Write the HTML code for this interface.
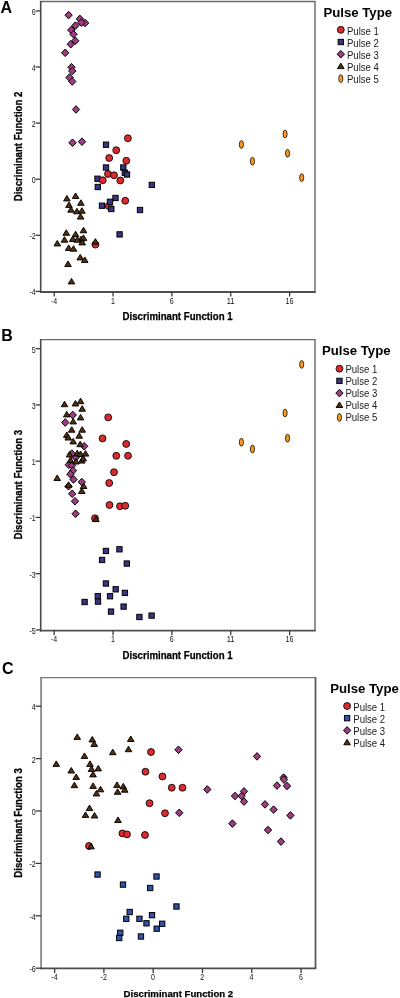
<!DOCTYPE html>
<html><head><meta charset="utf-8"><title>Discriminant analysis scatter plots</title>
<style>
html,body{margin:0;padding:0;background:#fff;}
body{width:400px;height:998px;overflow:hidden;}
svg{display:block;font-family:"Liberation Sans", sans-serif;filter:blur(0.3px);}
</style></head><body>
<svg width="400" height="998" viewBox="0 0 400 998" font-family='"Liberation Sans", sans-serif'>
<rect width="400" height="998" fill="#fff"/>
<text x="0.45" y="12.8" font-size="16" font-weight="bold" text-anchor="start" fill="#000">A</text>
<path d="M40.1 1.5H315.8" stroke="#6a6a6a" stroke-width="1.4"/>
<path d="M315.0 1.5V292.0" stroke="#888" stroke-width="1.8"/>
<path d="M40.7 0.9V292.8" stroke="#4a4a4a" stroke-width="1.6"/>
<path d="M39.900000000000006 292.0H315.8" stroke="#505050" stroke-width="1.9"/>
<path d="M35.6 10.90H40.7" stroke="#333" stroke-width="1.25"/>
<text x="35.7" y="14.90" font-size="8.2" text-anchor="end" fill="#111" textLength="3.92" lengthAdjust="spacingAndGlyphs">6</text>
<path d="M35.6 67.00H40.7" stroke="#333" stroke-width="1.25"/>
<text x="35.7" y="71.00" font-size="8.2" text-anchor="end" fill="#111" textLength="3.92" lengthAdjust="spacingAndGlyphs">4</text>
<path d="M35.6 123.10H40.7" stroke="#333" stroke-width="1.25"/>
<text x="35.7" y="127.10" font-size="8.2" text-anchor="end" fill="#111" textLength="3.92" lengthAdjust="spacingAndGlyphs">2</text>
<path d="M35.6 179.20H40.7" stroke="#333" stroke-width="1.25"/>
<text x="35.7" y="183.20" font-size="8.2" text-anchor="end" fill="#111" textLength="3.92" lengthAdjust="spacingAndGlyphs">0</text>
<path d="M35.6 235.30H40.7" stroke="#333" stroke-width="1.25"/>
<text x="35.7" y="239.30" font-size="8.2" text-anchor="end" fill="#111" textLength="6.27" lengthAdjust="spacingAndGlyphs">-2</text>
<path d="M35.6 291.40H40.7" stroke="#333" stroke-width="1.25"/>
<text x="35.7" y="295.40" font-size="8.2" text-anchor="end" fill="#111" textLength="6.27" lengthAdjust="spacingAndGlyphs">-4</text>
<path d="M54.20 292.0V296.6" stroke="#333" stroke-width="1.25"/>
<text x="54.00" y="303.8" font-size="8.2" text-anchor="middle" fill="#111" textLength="6.27" lengthAdjust="spacingAndGlyphs">-4</text>
<path d="M113.05 292.0V296.6" stroke="#333" stroke-width="1.25"/>
<text x="112.85" y="303.8" font-size="8.2" text-anchor="middle" fill="#111" textLength="3.92" lengthAdjust="spacingAndGlyphs">1</text>
<path d="M171.90 292.0V296.6" stroke="#333" stroke-width="1.25"/>
<text x="171.70" y="303.8" font-size="8.2" text-anchor="middle" fill="#111" textLength="3.92" lengthAdjust="spacingAndGlyphs">6</text>
<path d="M230.75 292.0V296.6" stroke="#333" stroke-width="1.25"/>
<text x="230.55" y="303.8" font-size="8.2" text-anchor="middle" fill="#111" textLength="7.84" lengthAdjust="spacingAndGlyphs">11</text>
<path d="M289.60 292.0V296.6" stroke="#333" stroke-width="1.25"/>
<text x="289.40" y="303.8" font-size="8.2" text-anchor="middle" fill="#111" textLength="7.84" lengthAdjust="spacingAndGlyphs">16</text>
<text x="122.6" y="320.0" font-size="10.2" font-weight="bold" text-anchor="start" fill="#000" stroke="#000" stroke-width="0.25" textLength="110.0" lengthAdjust="spacingAndGlyphs">Discriminant Function 1</text>
<text x="0" y="0" font-size="10.6" font-weight="bold" text-anchor="middle" stroke="#000" stroke-width="0.3" textLength="109.6" lengthAdjust="spacingAndGlyphs" transform="translate(21.7,146.45) rotate(-90)">Discriminant Function 2</text>
<circle cx="127.90" cy="138.25" r="3.45" fill="#dc2a2e" stroke="#000" stroke-width="0.85"/>
<circle cx="116.25" cy="150.25" r="3.45" fill="#dc2a2e" stroke="#000" stroke-width="0.85"/>
<circle cx="109.20" cy="158.00" r="3.45" fill="#dc2a2e" stroke="#000" stroke-width="0.85"/>
<circle cx="126.30" cy="160.75" r="3.45" fill="#dc2a2e" stroke="#000" stroke-width="0.85"/>
<circle cx="108.00" cy="174.00" r="3.45" fill="#dc2a2e" stroke="#000" stroke-width="0.85"/>
<circle cx="114.00" cy="175.30" r="3.45" fill="#dc2a2e" stroke="#000" stroke-width="0.85"/>
<circle cx="120.30" cy="180.50" r="3.45" fill="#dc2a2e" stroke="#000" stroke-width="0.85"/>
<circle cx="108.75" cy="206.00" r="3.45" fill="#dc2a2e" stroke="#000" stroke-width="0.85"/>
<circle cx="125.25" cy="200.75" r="3.45" fill="#dc2a2e" stroke="#000" stroke-width="0.85"/>
<circle cx="95.40" cy="244.60" r="3.45" fill="#dc2a2e" stroke="#000" stroke-width="0.85"/>
<rect x="103.35" y="142.05" width="5.3" height="5.3" fill="#3a3582" stroke="#000" stroke-width="1.0"/>
<rect x="103.35" y="164.85" width="5.3" height="5.3" fill="#3a3582" stroke="#000" stroke-width="1.0"/>
<rect x="120.65" y="164.85" width="5.3" height="5.3" fill="#3a3582" stroke="#000" stroke-width="1.0"/>
<rect x="122.15" y="170.10" width="5.3" height="5.3" fill="#3a3582" stroke="#000" stroke-width="1.0"/>
<rect x="124.35" y="171.85" width="5.3" height="5.3" fill="#3a3582" stroke="#000" stroke-width="1.0"/>
<rect x="94.85" y="176.10" width="5.3" height="5.3" fill="#3a3582" stroke="#000" stroke-width="1.0"/>
<rect x="95.15" y="184.35" width="5.3" height="5.3" fill="#3a3582" stroke="#000" stroke-width="1.0"/>
<rect x="149.15" y="182.25" width="5.3" height="5.3" fill="#3a3582" stroke="#000" stroke-width="1.0"/>
<rect x="112.85" y="195.35" width="5.3" height="5.3" fill="#3a3582" stroke="#000" stroke-width="1.0"/>
<rect x="107.35" y="199.15" width="5.3" height="5.3" fill="#3a3582" stroke="#000" stroke-width="1.0"/>
<rect x="99.35" y="203.05" width="5.3" height="5.3" fill="#3a3582" stroke="#000" stroke-width="1.0"/>
<rect x="108.65" y="206.35" width="5.3" height="5.3" fill="#3a3582" stroke="#000" stroke-width="1.0"/>
<rect x="137.35" y="207.35" width="5.3" height="5.3" fill="#3a3582" stroke="#000" stroke-width="1.0"/>
<rect x="116.95" y="231.75" width="5.3" height="5.3" fill="#3a3582" stroke="#000" stroke-width="1.0"/>
<path d="M68.60 11.30L72.25 15.10L68.60 18.90L64.95 15.10Z" fill="#a03c82" stroke="#000" stroke-width="1.0"/>
<path d="M79.90 15.10L83.55 18.90L79.90 22.70L76.25 18.90Z" fill="#a03c82" stroke="#000" stroke-width="1.0"/>
<path d="M85.10 19.20L88.75 23.00L85.10 26.80L81.45 23.00Z" fill="#a03c82" stroke="#000" stroke-width="1.0"/>
<path d="M81.40 18.80L85.05 22.60L81.40 26.40L77.75 22.60Z" fill="#a03c82" stroke="#000" stroke-width="1.0"/>
<path d="M75.40 21.80L79.05 25.60L75.40 29.40L71.75 25.60Z" fill="#a03c82" stroke="#000" stroke-width="1.0"/>
<path d="M71.25 26.30L74.90 30.10L71.25 33.90L67.60 30.10Z" fill="#a03c82" stroke="#000" stroke-width="1.0"/>
<path d="M73.50 30.45L77.15 34.25L73.50 38.05L69.85 34.25Z" fill="#a03c82" stroke="#000" stroke-width="1.0"/>
<path d="M75.25 37.00L78.90 40.80L75.25 44.60L71.60 40.80Z" fill="#a03c82" stroke="#000" stroke-width="1.0"/>
<path d="M70.75 40.45L74.40 44.25L70.75 48.05L67.10 44.25Z" fill="#a03c82" stroke="#000" stroke-width="1.0"/>
<path d="M65.20 49.00L68.85 52.80L65.20 56.60L61.55 52.80Z" fill="#a03c82" stroke="#000" stroke-width="1.0"/>
<path d="M71.50 63.45L75.15 67.25L71.50 71.05L67.85 67.25Z" fill="#a03c82" stroke="#000" stroke-width="1.0"/>
<path d="M72.25 67.20L75.90 71.00L72.25 74.80L68.60 71.00Z" fill="#a03c82" stroke="#000" stroke-width="1.0"/>
<path d="M69.50 73.70L73.15 77.50L69.50 81.30L65.85 77.50Z" fill="#a03c82" stroke="#000" stroke-width="1.0"/>
<path d="M72.25 77.70L75.90 81.50L72.25 85.30L68.60 81.50Z" fill="#a03c82" stroke="#000" stroke-width="1.0"/>
<path d="M76.00 105.70L79.65 109.50L76.00 113.30L72.35 109.50Z" fill="#a03c82" stroke="#000" stroke-width="1.0"/>
<path d="M72.50 138.95L76.15 142.75L72.50 146.55L68.85 142.75Z" fill="#a03c82" stroke="#000" stroke-width="1.0"/>
<path d="M82.00 137.90L85.65 141.70L82.00 145.50L78.35 141.70Z" fill="#a03c82" stroke="#000" stroke-width="1.0"/>
<path d="M75.60 192.95L78.90 198.45L72.30 198.45Z" fill="#55300f" stroke="#000" stroke-width="0.95" stroke-linejoin="round"/>
<path d="M66.90 195.45L70.20 200.95L63.60 200.95Z" fill="#55300f" stroke="#000" stroke-width="0.95" stroke-linejoin="round"/>
<path d="M80.90 199.80L84.20 205.30L77.60 205.30Z" fill="#55300f" stroke="#000" stroke-width="0.95" stroke-linejoin="round"/>
<path d="M69.00 201.95L72.30 207.45L65.70 207.45Z" fill="#55300f" stroke="#000" stroke-width="0.95" stroke-linejoin="round"/>
<path d="M71.00 206.70L74.30 212.20L67.70 212.20Z" fill="#55300f" stroke="#000" stroke-width="0.95" stroke-linejoin="round"/>
<path d="M76.90 208.30L80.20 213.80L73.60 213.80Z" fill="#55300f" stroke="#000" stroke-width="0.95" stroke-linejoin="round"/>
<path d="M81.90 207.70L85.20 213.20L78.60 213.20Z" fill="#55300f" stroke="#000" stroke-width="0.95" stroke-linejoin="round"/>
<path d="M80.60 213.60L83.90 219.10L77.30 219.10Z" fill="#55300f" stroke="#000" stroke-width="0.95" stroke-linejoin="round"/>
<path d="M83.50 227.30L86.80 232.80L80.20 232.80Z" fill="#55300f" stroke="#000" stroke-width="0.95" stroke-linejoin="round"/>
<path d="M66.25 229.80L69.55 235.30L62.95 235.30Z" fill="#55300f" stroke="#000" stroke-width="0.95" stroke-linejoin="round"/>
<path d="M75.60 231.20L78.90 236.70L72.30 236.70Z" fill="#55300f" stroke="#000" stroke-width="0.95" stroke-linejoin="round"/>
<path d="M64.50 236.70L67.80 242.20L61.20 242.20Z" fill="#55300f" stroke="#000" stroke-width="0.95" stroke-linejoin="round"/>
<path d="M72.75 235.95L76.05 241.45L69.45 241.45Z" fill="#55300f" stroke="#000" stroke-width="0.95" stroke-linejoin="round"/>
<path d="M81.00 236.20L84.30 241.70L77.70 241.70Z" fill="#55300f" stroke="#000" stroke-width="0.95" stroke-linejoin="round"/>
<path d="M83.50 234.90L86.80 240.40L80.20 240.40Z" fill="#55300f" stroke="#000" stroke-width="0.95" stroke-linejoin="round"/>
<path d="M82.20 239.40L85.50 244.90L78.90 244.90Z" fill="#55300f" stroke="#000" stroke-width="0.95" stroke-linejoin="round"/>
<path d="M77.25 236.70L80.55 242.20L73.95 242.20Z" fill="#55300f" stroke="#000" stroke-width="0.95" stroke-linejoin="round"/>
<path d="M57.30 240.45L60.60 245.95L54.00 245.95Z" fill="#55300f" stroke="#000" stroke-width="0.95" stroke-linejoin="round"/>
<path d="M95.40 238.65L98.70 244.15L92.10 244.15Z" fill="#55300f" stroke="#000" stroke-width="0.95" stroke-linejoin="round"/>
<path d="M68.70 244.95L72.00 250.45L65.40 250.45Z" fill="#55300f" stroke="#000" stroke-width="0.95" stroke-linejoin="round"/>
<path d="M73.50 245.70L76.80 251.20L70.20 251.20Z" fill="#55300f" stroke="#000" stroke-width="0.95" stroke-linejoin="round"/>
<path d="M80.25 254.40L83.55 259.90L76.95 259.90Z" fill="#55300f" stroke="#000" stroke-width="0.95" stroke-linejoin="round"/>
<path d="M84.75 256.95L88.05 262.45L81.45 262.45Z" fill="#55300f" stroke="#000" stroke-width="0.95" stroke-linejoin="round"/>
<path d="M68.00 261.00L71.30 266.50L64.70 266.50Z" fill="#55300f" stroke="#000" stroke-width="0.95" stroke-linejoin="round"/>
<path d="M71.50 278.40L74.80 283.90L68.20 283.90Z" fill="#55300f" stroke="#000" stroke-width="0.95" stroke-linejoin="round"/>
<ellipse cx="241.40" cy="144.50" rx="2.05" ry="3.9" fill="#fb9a1f" stroke="#000" stroke-width="0.75"/>
<ellipse cx="252.45" cy="161.20" rx="2.05" ry="3.9" fill="#fb9a1f" stroke="#000" stroke-width="0.75"/>
<ellipse cx="285.10" cy="134.00" rx="2.05" ry="3.9" fill="#fb9a1f" stroke="#000" stroke-width="0.75"/>
<ellipse cx="287.55" cy="153.30" rx="2.05" ry="3.9" fill="#fb9a1f" stroke="#000" stroke-width="0.75"/>
<ellipse cx="301.70" cy="177.60" rx="2.05" ry="3.9" fill="#fb9a1f" stroke="#000" stroke-width="0.75"/>
<circle cx="102.75" cy="180.25" r="3.45" fill="#dc2a2e" stroke="#000" stroke-width="0.85"/>
<text x="323.4" y="16.6" font-size="13.2" font-weight="bold" text-anchor="start" fill="#000">Pulse Type</text>
<circle cx="340.80" cy="29.80" r="3.45" fill="#dc2a2e" stroke="#000" stroke-width="0.85"/>
<text x="346.95" y="34.80" font-size="10.8" text-anchor="start" fill="#1a1a1a" textLength="31.9" lengthAdjust="spacingAndGlyphs">Pulse 1</text>
<rect x="338.15" y="39.35" width="5.3" height="5.3" fill="#3a3582" stroke="#000" stroke-width="1.0"/>
<text x="346.95" y="46.89" font-size="10.8" text-anchor="start" fill="#1a1a1a" textLength="31.9" lengthAdjust="spacingAndGlyphs">Pulse 2</text>
<path d="M340.80 50.40L344.45 54.20L340.80 58.00L337.15 54.20Z" fill="#a03c82" stroke="#000" stroke-width="1.0"/>
<text x="346.95" y="58.98" font-size="10.8" text-anchor="start" fill="#1a1a1a" textLength="31.9" lengthAdjust="spacingAndGlyphs">Pulse 3</text>
<path d="M340.80 63.10L344.10 68.60L337.50 68.60Z" fill="#55300f" stroke="#000" stroke-width="0.95" stroke-linejoin="round"/>
<text x="346.95" y="71.07" font-size="10.8" text-anchor="start" fill="#1a1a1a" textLength="31.9" lengthAdjust="spacingAndGlyphs">Pulse 4</text>
<ellipse cx="340.80" cy="78.60" rx="2.05" ry="3.9" fill="#fb9a1f" stroke="#000" stroke-width="0.75"/>
<text x="346.95" y="83.16" font-size="10.8" text-anchor="start" fill="#1a1a1a" textLength="31.9" lengthAdjust="spacingAndGlyphs">Pulse 5</text>
<text x="1.2" y="340.8" font-size="16" font-weight="bold" text-anchor="start" fill="#000">B</text>
<path d="M40.1 339.6H315.8" stroke="#6a6a6a" stroke-width="1.4"/>
<path d="M315.0 339.6V630.6" stroke="#888" stroke-width="1.8"/>
<path d="M40.7 339.0V631.4" stroke="#4a4a4a" stroke-width="1.6"/>
<path d="M39.900000000000006 630.6H315.8" stroke="#505050" stroke-width="1.9"/>
<path d="M35.6 348.70H40.7" stroke="#333" stroke-width="1.25"/>
<text x="35.7" y="352.70" font-size="8.2" text-anchor="end" fill="#111" textLength="3.92" lengthAdjust="spacingAndGlyphs">5</text>
<path d="M35.6 404.94H40.7" stroke="#333" stroke-width="1.25"/>
<text x="35.7" y="408.94" font-size="8.2" text-anchor="end" fill="#111" textLength="3.92" lengthAdjust="spacingAndGlyphs">3</text>
<path d="M35.6 461.18H40.7" stroke="#333" stroke-width="1.25"/>
<text x="35.7" y="465.18" font-size="8.2" text-anchor="end" fill="#111" textLength="3.92" lengthAdjust="spacingAndGlyphs">1</text>
<path d="M35.6 517.42H40.7" stroke="#333" stroke-width="1.25"/>
<text x="35.7" y="521.42" font-size="8.2" text-anchor="end" fill="#111" textLength="6.27" lengthAdjust="spacingAndGlyphs">-1</text>
<path d="M35.6 573.66H40.7" stroke="#333" stroke-width="1.25"/>
<text x="35.7" y="577.66" font-size="8.2" text-anchor="end" fill="#111" textLength="6.27" lengthAdjust="spacingAndGlyphs">-3</text>
<path d="M35.6 629.90H40.7" stroke="#333" stroke-width="1.25"/>
<text x="35.7" y="633.90" font-size="8.2" text-anchor="end" fill="#111" textLength="6.27" lengthAdjust="spacingAndGlyphs">-5</text>
<path d="M54.20 630.6V635.2" stroke="#333" stroke-width="1.25"/>
<text x="54.00" y="642.1" font-size="8.2" text-anchor="middle" fill="#111" textLength="6.27" lengthAdjust="spacingAndGlyphs">-4</text>
<path d="M113.05 630.6V635.2" stroke="#333" stroke-width="1.25"/>
<text x="112.85" y="642.1" font-size="8.2" text-anchor="middle" fill="#111" textLength="3.92" lengthAdjust="spacingAndGlyphs">1</text>
<path d="M171.90 630.6V635.2" stroke="#333" stroke-width="1.25"/>
<text x="171.70" y="642.1" font-size="8.2" text-anchor="middle" fill="#111" textLength="3.92" lengthAdjust="spacingAndGlyphs">6</text>
<path d="M230.75 630.6V635.2" stroke="#333" stroke-width="1.25"/>
<text x="230.55" y="642.1" font-size="8.2" text-anchor="middle" fill="#111" textLength="7.84" lengthAdjust="spacingAndGlyphs">11</text>
<path d="M289.60 630.6V635.2" stroke="#333" stroke-width="1.25"/>
<text x="289.40" y="642.1" font-size="8.2" text-anchor="middle" fill="#111" textLength="7.84" lengthAdjust="spacingAndGlyphs">16</text>
<text x="122.6" y="658.5" font-size="10.2" font-weight="bold" text-anchor="start" fill="#000" stroke="#000" stroke-width="0.25" textLength="110.0" lengthAdjust="spacingAndGlyphs">Discriminant Function 1</text>
<text x="0" y="0" font-size="10.6" font-weight="bold" text-anchor="middle" stroke="#000" stroke-width="0.3" textLength="109.6" lengthAdjust="spacingAndGlyphs" transform="translate(21.7,484.75) rotate(-90)">Discriminant Function 3</text>
<circle cx="108.20" cy="417.40" r="3.45" fill="#dc2a2e" stroke="#000" stroke-width="0.85"/>
<circle cx="102.50" cy="438.40" r="3.45" fill="#dc2a2e" stroke="#000" stroke-width="0.85"/>
<circle cx="126.20" cy="443.95" r="3.45" fill="#dc2a2e" stroke="#000" stroke-width="0.85"/>
<circle cx="116.30" cy="455.80" r="3.45" fill="#dc2a2e" stroke="#000" stroke-width="0.85"/>
<circle cx="128.00" cy="455.80" r="3.45" fill="#dc2a2e" stroke="#000" stroke-width="0.85"/>
<circle cx="114.00" cy="472.20" r="3.45" fill="#dc2a2e" stroke="#000" stroke-width="0.85"/>
<circle cx="109.20" cy="483.00" r="3.45" fill="#dc2a2e" stroke="#000" stroke-width="0.85"/>
<circle cx="109.50" cy="505.00" r="3.45" fill="#dc2a2e" stroke="#000" stroke-width="0.85"/>
<circle cx="120.00" cy="506.25" r="3.45" fill="#dc2a2e" stroke="#000" stroke-width="0.85"/>
<circle cx="125.25" cy="505.80" r="3.45" fill="#dc2a2e" stroke="#000" stroke-width="0.85"/>
<circle cx="95.00" cy="518.30" r="3.45" fill="#dc2a2e" stroke="#000" stroke-width="0.85"/>
<rect x="103.30" y="548.30" width="5.3" height="5.3" fill="#3a3582" stroke="#000" stroke-width="1.0"/>
<rect x="116.80" y="546.65" width="5.3" height="5.3" fill="#3a3582" stroke="#000" stroke-width="1.0"/>
<rect x="99.40" y="557.30" width="5.3" height="5.3" fill="#3a3582" stroke="#000" stroke-width="1.0"/>
<rect x="124.15" y="560.90" width="5.3" height="5.3" fill="#3a3582" stroke="#000" stroke-width="1.0"/>
<rect x="103.30" y="580.85" width="5.3" height="5.3" fill="#3a3582" stroke="#000" stroke-width="1.0"/>
<rect x="113.05" y="586.65" width="5.3" height="5.3" fill="#3a3582" stroke="#000" stroke-width="1.0"/>
<rect x="122.25" y="590.25" width="5.3" height="5.3" fill="#3a3582" stroke="#000" stroke-width="1.0"/>
<rect x="95.15" y="593.55" width="5.3" height="5.3" fill="#3a3582" stroke="#000" stroke-width="1.0"/>
<rect x="107.35" y="593.60" width="5.3" height="5.3" fill="#3a3582" stroke="#000" stroke-width="1.0"/>
<rect x="81.95" y="599.35" width="5.3" height="5.3" fill="#3a3582" stroke="#000" stroke-width="1.0"/>
<rect x="95.35" y="598.95" width="5.3" height="5.3" fill="#3a3582" stroke="#000" stroke-width="1.0"/>
<rect x="120.95" y="603.95" width="5.3" height="5.3" fill="#3a3582" stroke="#000" stroke-width="1.0"/>
<rect x="108.35" y="608.95" width="5.3" height="5.3" fill="#3a3582" stroke="#000" stroke-width="1.0"/>
<rect x="136.75" y="614.35" width="5.3" height="5.3" fill="#3a3582" stroke="#000" stroke-width="1.0"/>
<rect x="148.95" y="612.95" width="5.3" height="5.3" fill="#3a3582" stroke="#000" stroke-width="1.0"/>
<path d="M72.75 411.20L76.40 415.00L72.75 418.80L69.10 415.00Z" fill="#a03c82" stroke="#000" stroke-width="1.0"/>
<path d="M65.25 418.70L68.90 422.50L65.25 426.30L61.60 422.50Z" fill="#a03c82" stroke="#000" stroke-width="1.0"/>
<path d="M84.20 442.50L87.85 446.30L84.20 450.10L80.55 446.30Z" fill="#a03c82" stroke="#000" stroke-width="1.0"/>
<path d="M71.80 449.80L75.45 453.60L71.80 457.40L68.15 453.60Z" fill="#a03c82" stroke="#000" stroke-width="1.0"/>
<path d="M75.75 453.80L79.40 457.60L75.75 461.40L72.10 457.60Z" fill="#a03c82" stroke="#000" stroke-width="1.0"/>
<path d="M68.80 461.00L72.45 464.80L68.80 468.60L65.15 464.80Z" fill="#a03c82" stroke="#000" stroke-width="1.0"/>
<path d="M72.10 461.70L75.75 465.50L72.10 469.30L68.45 465.50Z" fill="#a03c82" stroke="#000" stroke-width="1.0"/>
<path d="M73.00 466.80L76.65 470.60L73.00 474.40L69.35 470.60Z" fill="#a03c82" stroke="#000" stroke-width="1.0"/>
<path d="M70.40 470.40L74.05 474.20L70.40 478.00L66.75 474.20Z" fill="#a03c82" stroke="#000" stroke-width="1.0"/>
<path d="M73.50 475.70L77.15 479.50L73.50 483.30L69.85 479.50Z" fill="#a03c82" stroke="#000" stroke-width="1.0"/>
<path d="M81.80 478.30L85.45 482.10L81.80 485.90L78.15 482.10Z" fill="#a03c82" stroke="#000" stroke-width="1.0"/>
<path d="M68.50 482.50L72.15 486.30L68.50 490.10L64.85 486.30Z" fill="#a03c82" stroke="#000" stroke-width="1.0"/>
<path d="M72.20 490.00L75.85 493.80L72.20 497.60L68.55 493.80Z" fill="#a03c82" stroke="#000" stroke-width="1.0"/>
<path d="M75.00 497.45L78.65 501.25L75.00 505.05L71.35 501.25Z" fill="#a03c82" stroke="#000" stroke-width="1.0"/>
<path d="M75.60 509.95L79.25 513.75L75.60 517.55L71.95 513.75Z" fill="#a03c82" stroke="#000" stroke-width="1.0"/>
<path d="M64.50 401.20L67.80 406.70L61.20 406.70Z" fill="#55300f" stroke="#000" stroke-width="0.95" stroke-linejoin="round"/>
<path d="M75.45 400.45L78.75 405.95L72.15 405.95Z" fill="#55300f" stroke="#000" stroke-width="0.95" stroke-linejoin="round"/>
<path d="M80.55 398.20L83.85 403.70L77.25 403.70Z" fill="#55300f" stroke="#000" stroke-width="0.95" stroke-linejoin="round"/>
<path d="M82.20 405.70L85.50 411.20L78.90 411.20Z" fill="#55300f" stroke="#000" stroke-width="0.95" stroke-linejoin="round"/>
<path d="M66.75 411.40L70.05 416.90L63.45 416.90Z" fill="#55300f" stroke="#000" stroke-width="0.95" stroke-linejoin="round"/>
<path d="M80.55 414.40L83.85 419.90L77.25 419.90Z" fill="#55300f" stroke="#000" stroke-width="0.95" stroke-linejoin="round"/>
<path d="M73.20 418.45L76.50 423.95L69.90 423.95Z" fill="#55300f" stroke="#000" stroke-width="0.95" stroke-linejoin="round"/>
<path d="M71.70 426.70L75.00 432.20L68.40 432.20Z" fill="#55300f" stroke="#000" stroke-width="0.95" stroke-linejoin="round"/>
<path d="M82.20 426.70L85.50 432.20L78.90 432.20Z" fill="#55300f" stroke="#000" stroke-width="0.95" stroke-linejoin="round"/>
<path d="M66.75 431.95L70.05 437.45L63.45 437.45Z" fill="#55300f" stroke="#000" stroke-width="0.95" stroke-linejoin="round"/>
<path d="M79.20 432.70L82.50 438.20L75.90 438.20Z" fill="#55300f" stroke="#000" stroke-width="0.95" stroke-linejoin="round"/>
<path d="M68.25 434.50L71.55 440.00L64.95 440.00Z" fill="#55300f" stroke="#000" stroke-width="0.95" stroke-linejoin="round"/>
<path d="M73.20 438.40L76.50 443.90L69.90 443.90Z" fill="#55300f" stroke="#000" stroke-width="0.95" stroke-linejoin="round"/>
<path d="M80.20 441.20L83.50 446.70L76.90 446.70Z" fill="#55300f" stroke="#000" stroke-width="0.95" stroke-linejoin="round"/>
<path d="M69.60 451.50L72.90 457.00L66.30 457.00Z" fill="#55300f" stroke="#000" stroke-width="0.95" stroke-linejoin="round"/>
<path d="M77.20 450.30L80.50 455.80L73.90 455.80Z" fill="#55300f" stroke="#000" stroke-width="0.95" stroke-linejoin="round"/>
<path d="M80.60 451.00L83.90 456.50L77.30 456.50Z" fill="#55300f" stroke="#000" stroke-width="0.95" stroke-linejoin="round"/>
<path d="M85.50 450.60L88.80 456.10L82.20 456.10Z" fill="#55300f" stroke="#000" stroke-width="0.95" stroke-linejoin="round"/>
<path d="M70.50 457.10L73.80 462.60L67.20 462.60Z" fill="#55300f" stroke="#000" stroke-width="0.95" stroke-linejoin="round"/>
<path d="M76.00 458.50L79.30 464.00L72.70 464.00Z" fill="#55300f" stroke="#000" stroke-width="0.95" stroke-linejoin="round"/>
<path d="M81.75 457.60L85.05 463.10L78.45 463.10Z" fill="#55300f" stroke="#000" stroke-width="0.95" stroke-linejoin="round"/>
<path d="M83.25 455.45L86.55 460.95L79.95 460.95Z" fill="#55300f" stroke="#000" stroke-width="0.95" stroke-linejoin="round"/>
<path d="M57.20 475.00L60.50 480.50L53.90 480.50Z" fill="#55300f" stroke="#000" stroke-width="0.95" stroke-linejoin="round"/>
<path d="M68.60 481.80L71.90 487.30L65.30 487.30Z" fill="#55300f" stroke="#000" stroke-width="0.95" stroke-linejoin="round"/>
<path d="M83.60 483.00L86.90 488.50L80.30 488.50Z" fill="#55300f" stroke="#000" stroke-width="0.95" stroke-linejoin="round"/>
<path d="M81.80 487.95L85.10 493.45L78.50 493.45Z" fill="#55300f" stroke="#000" stroke-width="0.95" stroke-linejoin="round"/>
<path d="M95.90 516.05L99.20 521.55L92.60 521.55Z" fill="#55300f" stroke="#000" stroke-width="0.95" stroke-linejoin="round"/>
<ellipse cx="241.40" cy="442.25" rx="2.05" ry="3.9" fill="#fb9a1f" stroke="#000" stroke-width="0.75"/>
<ellipse cx="252.45" cy="449.00" rx="2.05" ry="3.9" fill="#fb9a1f" stroke="#000" stroke-width="0.75"/>
<ellipse cx="285.10" cy="413.00" rx="2.05" ry="3.9" fill="#fb9a1f" stroke="#000" stroke-width="0.75"/>
<ellipse cx="287.55" cy="438.20" rx="2.05" ry="3.9" fill="#fb9a1f" stroke="#000" stroke-width="0.75"/>
<ellipse cx="301.70" cy="364.40" rx="2.05" ry="3.9" fill="#fb9a1f" stroke="#000" stroke-width="0.75"/>
<text x="321.9" y="355.1" font-size="13.2" font-weight="bold" text-anchor="start" fill="#000">Pulse Type</text>
<circle cx="339.45" cy="368.70" r="3.45" fill="#dc2a2e" stroke="#000" stroke-width="0.85"/>
<text x="345.4" y="373.10" font-size="10.8" text-anchor="start" fill="#1a1a1a" textLength="31.9" lengthAdjust="spacingAndGlyphs">Pulse 1</text>
<rect x="336.80" y="378.25" width="5.3" height="5.3" fill="#3a3582" stroke="#000" stroke-width="1.0"/>
<text x="345.4" y="385.19" font-size="10.8" text-anchor="start" fill="#1a1a1a" textLength="31.9" lengthAdjust="spacingAndGlyphs">Pulse 2</text>
<path d="M339.45 389.30L343.10 393.10L339.45 396.90L335.80 393.10Z" fill="#a03c82" stroke="#000" stroke-width="1.0"/>
<text x="345.4" y="397.28" font-size="10.8" text-anchor="start" fill="#1a1a1a" textLength="31.9" lengthAdjust="spacingAndGlyphs">Pulse 3</text>
<path d="M339.45 402.00L342.75 407.50L336.15 407.50Z" fill="#55300f" stroke="#000" stroke-width="0.95" stroke-linejoin="round"/>
<text x="345.4" y="409.37" font-size="10.8" text-anchor="start" fill="#1a1a1a" textLength="31.9" lengthAdjust="spacingAndGlyphs">Pulse 4</text>
<ellipse cx="339.45" cy="417.50" rx="2.05" ry="3.9" fill="#fb9a1f" stroke="#000" stroke-width="0.75"/>
<text x="345.4" y="421.46" font-size="10.8" text-anchor="start" fill="#1a1a1a" textLength="31.9" lengthAdjust="spacingAndGlyphs">Pulse 5</text>
<text x="1.9" y="673.85" font-size="16" font-weight="bold" text-anchor="start" fill="#000">C</text>
<path d="M40.5 677.6H316.3" stroke="#777" stroke-width="1.4"/>
<path d="M315.5 677.6V968.4" stroke="#5a5a5a" stroke-width="1.8"/>
<path d="M41.1 677.0V969.1999999999999" stroke="#7a7a7a" stroke-width="1.6"/>
<path d="M40.300000000000004 968.4H316.3" stroke="#4c4c4c" stroke-width="1.9"/>
<path d="M35.6 706.20H41.1" stroke="#333" stroke-width="1.25"/>
<text x="35.7" y="710.20" font-size="8.2" text-anchor="end" fill="#111" textLength="3.92" lengthAdjust="spacingAndGlyphs">4</text>
<path d="M35.6 758.60H41.1" stroke="#333" stroke-width="1.25"/>
<text x="35.7" y="762.60" font-size="8.2" text-anchor="end" fill="#111" textLength="3.92" lengthAdjust="spacingAndGlyphs">2</text>
<path d="M35.6 811.00H41.1" stroke="#333" stroke-width="1.25"/>
<text x="35.7" y="815.00" font-size="8.2" text-anchor="end" fill="#111" textLength="3.92" lengthAdjust="spacingAndGlyphs">0</text>
<path d="M35.6 863.40H41.1" stroke="#333" stroke-width="1.25"/>
<text x="35.7" y="867.40" font-size="8.2" text-anchor="end" fill="#111" textLength="6.27" lengthAdjust="spacingAndGlyphs">-2</text>
<path d="M35.6 915.80H41.1" stroke="#333" stroke-width="1.25"/>
<text x="35.7" y="919.80" font-size="8.2" text-anchor="end" fill="#111" textLength="6.27" lengthAdjust="spacingAndGlyphs">-4</text>
<path d="M35.6 968.20H41.1" stroke="#333" stroke-width="1.25"/>
<text x="35.7" y="972.20" font-size="8.2" text-anchor="end" fill="#111" textLength="6.27" lengthAdjust="spacingAndGlyphs">-6</text>
<path d="M54.64 968.4V973.0" stroke="#333" stroke-width="1.25"/>
<text x="54.44" y="979.9" font-size="8.2" text-anchor="middle" fill="#111" textLength="6.27" lengthAdjust="spacingAndGlyphs">-4</text>
<path d="M103.92 968.4V973.0" stroke="#333" stroke-width="1.25"/>
<text x="103.72" y="979.9" font-size="8.2" text-anchor="middle" fill="#111" textLength="6.27" lengthAdjust="spacingAndGlyphs">-2</text>
<path d="M153.20 968.4V973.0" stroke="#333" stroke-width="1.25"/>
<text x="153.00" y="979.9" font-size="8.2" text-anchor="middle" fill="#111" textLength="3.92" lengthAdjust="spacingAndGlyphs">0</text>
<path d="M202.48 968.4V973.0" stroke="#333" stroke-width="1.25"/>
<text x="202.28" y="979.9" font-size="8.2" text-anchor="middle" fill="#111" textLength="3.92" lengthAdjust="spacingAndGlyphs">2</text>
<path d="M251.76 968.4V973.0" stroke="#333" stroke-width="1.25"/>
<text x="251.56" y="979.9" font-size="8.2" text-anchor="middle" fill="#111" textLength="3.92" lengthAdjust="spacingAndGlyphs">4</text>
<path d="M301.04 968.4V973.0" stroke="#333" stroke-width="1.25"/>
<text x="300.84" y="979.9" font-size="8.2" text-anchor="middle" fill="#111" textLength="3.92" lengthAdjust="spacingAndGlyphs">6</text>
<text x="123.6" y="996.6" font-size="9.9" font-weight="bold" text-anchor="start" fill="#000" stroke="#000" stroke-width="0.25" textLength="109.6" lengthAdjust="spacingAndGlyphs">Discriminant Function 2</text>
<text x="0" y="0" font-size="10.6" font-weight="bold" text-anchor="middle" stroke="#000" stroke-width="0.3" textLength="109.6" lengthAdjust="spacingAndGlyphs" transform="translate(21.7,822.9) rotate(-90)">Discriminant Function 3</text>
<circle cx="151.00" cy="752.00" r="3.45" fill="#dc2a2e" stroke="#000" stroke-width="0.85"/>
<circle cx="145.45" cy="771.70" r="3.45" fill="#dc2a2e" stroke="#000" stroke-width="0.85"/>
<circle cx="162.45" cy="776.45" r="3.45" fill="#dc2a2e" stroke="#000" stroke-width="0.85"/>
<circle cx="171.75" cy="787.70" r="3.45" fill="#dc2a2e" stroke="#000" stroke-width="0.85"/>
<circle cx="182.55" cy="787.70" r="3.45" fill="#dc2a2e" stroke="#000" stroke-width="0.85"/>
<circle cx="149.55" cy="803.20" r="3.45" fill="#dc2a2e" stroke="#000" stroke-width="0.85"/>
<circle cx="165.00" cy="813.25" r="3.45" fill="#dc2a2e" stroke="#000" stroke-width="0.85"/>
<circle cx="122.40" cy="833.40" r="3.45" fill="#dc2a2e" stroke="#000" stroke-width="0.85"/>
<circle cx="127.00" cy="834.40" r="3.45" fill="#dc2a2e" stroke="#000" stroke-width="0.85"/>
<circle cx="145.00" cy="835.00" r="3.45" fill="#dc2a2e" stroke="#000" stroke-width="0.85"/>
<circle cx="89.00" cy="846.00" r="3.45" fill="#dc2a2e" stroke="#000" stroke-width="0.85"/>
<rect x="94.90" y="871.90" width="5.3" height="5.3" fill="#3352a8" stroke="#000" stroke-width="1.0"/>
<rect x="120.35" y="881.95" width="5.3" height="5.3" fill="#3352a8" stroke="#000" stroke-width="1.0"/>
<rect x="153.85" y="873.85" width="5.3" height="5.3" fill="#3352a8" stroke="#000" stroke-width="1.0"/>
<rect x="147.55" y="885.35" width="5.3" height="5.3" fill="#3352a8" stroke="#000" stroke-width="1.0"/>
<rect x="173.80" y="903.85" width="5.3" height="5.3" fill="#3352a8" stroke="#000" stroke-width="1.0"/>
<rect x="127.05" y="909.35" width="5.3" height="5.3" fill="#3352a8" stroke="#000" stroke-width="1.0"/>
<rect x="123.60" y="916.15" width="5.3" height="5.3" fill="#3352a8" stroke="#000" stroke-width="1.0"/>
<rect x="136.80" y="916.15" width="5.3" height="5.3" fill="#3352a8" stroke="#000" stroke-width="1.0"/>
<rect x="149.35" y="912.55" width="5.3" height="5.3" fill="#3352a8" stroke="#000" stroke-width="1.0"/>
<rect x="143.85" y="920.65" width="5.3" height="5.3" fill="#3352a8" stroke="#000" stroke-width="1.0"/>
<rect x="159.55" y="921.10" width="5.3" height="5.3" fill="#3352a8" stroke="#000" stroke-width="1.0"/>
<rect x="154.05" y="926.05" width="5.3" height="5.3" fill="#3352a8" stroke="#000" stroke-width="1.0"/>
<rect x="117.60" y="930.10" width="5.3" height="5.3" fill="#3352a8" stroke="#000" stroke-width="1.0"/>
<rect x="116.55" y="935.35" width="5.3" height="5.3" fill="#3352a8" stroke="#000" stroke-width="1.0"/>
<rect x="138.30" y="933.85" width="5.3" height="5.3" fill="#3352a8" stroke="#000" stroke-width="1.0"/>
<path d="M178.50 745.95L182.15 749.75L178.50 753.55L174.85 749.75Z" fill="#a03c82" stroke="#000" stroke-width="1.0"/>
<path d="M179.25 809.00L182.90 812.80L179.25 816.60L175.60 812.80Z" fill="#a03c82" stroke="#000" stroke-width="1.0"/>
<path d="M207.25 785.65L210.90 789.45L207.25 793.25L203.60 789.45Z" fill="#a03c82" stroke="#000" stroke-width="1.0"/>
<path d="M257.00 752.60L260.65 756.40L257.00 760.20L253.35 756.40Z" fill="#a03c82" stroke="#000" stroke-width="1.0"/>
<path d="M283.60 773.80L287.25 777.60L283.60 781.40L279.95 777.60Z" fill="#a03c82" stroke="#000" stroke-width="1.0"/>
<path d="M284.00 775.80L287.65 779.60L284.00 783.40L280.35 779.60Z" fill="#a03c82" stroke="#000" stroke-width="1.0"/>
<path d="M277.00 781.80L280.65 785.60L277.00 789.40L273.35 785.60Z" fill="#a03c82" stroke="#000" stroke-width="1.0"/>
<path d="M287.00 782.20L290.65 786.00L287.00 789.80L283.35 786.00Z" fill="#a03c82" stroke="#000" stroke-width="1.0"/>
<path d="M235.00 792.20L238.65 796.00L235.00 799.80L231.35 796.00Z" fill="#a03c82" stroke="#000" stroke-width="1.0"/>
<path d="M244.00 787.60L247.65 791.40L244.00 795.20L240.35 791.40Z" fill="#a03c82" stroke="#000" stroke-width="1.0"/>
<path d="M241.60 792.20L245.25 796.00L241.60 799.80L237.95 796.00Z" fill="#a03c82" stroke="#000" stroke-width="1.0"/>
<path d="M244.00 797.80L247.65 801.60L244.00 805.40L240.35 801.60Z" fill="#a03c82" stroke="#000" stroke-width="1.0"/>
<path d="M265.00 800.60L268.65 804.40L265.00 808.20L261.35 804.40Z" fill="#a03c82" stroke="#000" stroke-width="1.0"/>
<path d="M273.60 805.80L277.25 809.60L273.60 813.40L269.95 809.60Z" fill="#a03c82" stroke="#000" stroke-width="1.0"/>
<path d="M290.40 811.60L294.05 815.40L290.40 819.20L286.75 815.40Z" fill="#a03c82" stroke="#000" stroke-width="1.0"/>
<path d="M232.40 819.80L236.05 823.60L232.40 827.40L228.75 823.60Z" fill="#a03c82" stroke="#000" stroke-width="1.0"/>
<path d="M268.00 826.20L271.65 830.00L268.00 833.80L264.35 830.00Z" fill="#a03c82" stroke="#000" stroke-width="1.0"/>
<path d="M281.00 837.80L284.65 841.60L281.00 845.40L277.35 841.60Z" fill="#a03c82" stroke="#000" stroke-width="1.0"/>
<path d="M77.25 733.90L80.55 739.40L73.95 739.40Z" fill="#55300f" stroke="#000" stroke-width="0.95" stroke-linejoin="round"/>
<path d="M92.25 736.45L95.55 741.95L88.95 741.95Z" fill="#55300f" stroke="#000" stroke-width="0.95" stroke-linejoin="round"/>
<path d="M94.20 740.95L97.50 746.45L90.90 746.45Z" fill="#55300f" stroke="#000" stroke-width="0.95" stroke-linejoin="round"/>
<path d="M84.45 752.95L87.75 758.45L81.15 758.45Z" fill="#55300f" stroke="#000" stroke-width="0.95" stroke-linejoin="round"/>
<path d="M56.25 760.90L59.55 766.40L52.95 766.40Z" fill="#55300f" stroke="#000" stroke-width="0.95" stroke-linejoin="round"/>
<path d="M90.00 760.90L93.30 766.40L86.70 766.40Z" fill="#55300f" stroke="#000" stroke-width="0.95" stroke-linejoin="round"/>
<path d="M71.25 767.50L74.55 773.00L67.95 773.00Z" fill="#55300f" stroke="#000" stroke-width="0.95" stroke-linejoin="round"/>
<path d="M91.50 766.00L94.80 771.50L88.20 771.50Z" fill="#55300f" stroke="#000" stroke-width="0.95" stroke-linejoin="round"/>
<path d="M98.25 765.40L101.55 770.90L94.95 770.90Z" fill="#55300f" stroke="#000" stroke-width="0.95" stroke-linejoin="round"/>
<path d="M93.00 771.40L96.30 776.90L89.70 776.90Z" fill="#55300f" stroke="#000" stroke-width="0.95" stroke-linejoin="round"/>
<path d="M76.20 773.95L79.50 779.45L72.90 779.45Z" fill="#55300f" stroke="#000" stroke-width="0.95" stroke-linejoin="round"/>
<path d="M74.40 782.20L77.70 787.70L71.10 787.70Z" fill="#55300f" stroke="#000" stroke-width="0.95" stroke-linejoin="round"/>
<path d="M93.10 782.90L96.40 788.40L89.80 788.40Z" fill="#55300f" stroke="#000" stroke-width="0.95" stroke-linejoin="round"/>
<path d="M100.50 786.30L103.80 791.80L97.20 791.80Z" fill="#55300f" stroke="#000" stroke-width="0.95" stroke-linejoin="round"/>
<path d="M96.45 790.45L99.75 795.95L93.15 795.95Z" fill="#55300f" stroke="#000" stroke-width="0.95" stroke-linejoin="round"/>
<path d="M117.00 781.90L120.30 787.40L113.70 787.40Z" fill="#55300f" stroke="#000" stroke-width="0.95" stroke-linejoin="round"/>
<path d="M117.60 788.80L120.90 794.30L114.30 794.30Z" fill="#55300f" stroke="#000" stroke-width="0.95" stroke-linejoin="round"/>
<path d="M123.25 783.40L126.55 788.90L119.95 788.90Z" fill="#55300f" stroke="#000" stroke-width="0.95" stroke-linejoin="round"/>
<path d="M124.75 786.70L128.05 792.20L121.45 792.20Z" fill="#55300f" stroke="#000" stroke-width="0.95" stroke-linejoin="round"/>
<path d="M89.50 805.10L92.80 810.60L86.20 810.60Z" fill="#55300f" stroke="#000" stroke-width="0.95" stroke-linejoin="round"/>
<path d="M85.50 811.90L88.80 817.40L82.20 817.40Z" fill="#55300f" stroke="#000" stroke-width="0.95" stroke-linejoin="round"/>
<path d="M94.50 812.50L97.80 818.00L91.20 818.00Z" fill="#55300f" stroke="#000" stroke-width="0.95" stroke-linejoin="round"/>
<path d="M118.00 817.00L121.30 822.50L114.70 822.50Z" fill="#55300f" stroke="#000" stroke-width="0.95" stroke-linejoin="round"/>
<path d="M91.00 843.35L94.30 848.85L87.70 848.85Z" fill="#55300f" stroke="#000" stroke-width="0.95" stroke-linejoin="round"/>
<path d="M130.75 736.00L134.05 741.50L127.45 741.50Z" fill="#55300f" stroke="#000" stroke-width="0.95" stroke-linejoin="round"/>
<path d="M128.50 746.20L131.80 751.70L125.20 751.70Z" fill="#55300f" stroke="#000" stroke-width="0.95" stroke-linejoin="round"/>
<path d="M112.75 749.20L116.05 754.70L109.45 754.70Z" fill="#55300f" stroke="#000" stroke-width="0.95" stroke-linejoin="round"/>
<text x="330.2" y="693.1" font-size="13.2" font-weight="bold" text-anchor="start" fill="#000">Pulse Type</text>
<circle cx="347.10" cy="706.00" r="3.45" fill="#dc2a2e" stroke="#000" stroke-width="0.85"/>
<text x="353.25" y="710.80" font-size="10.8" text-anchor="start" fill="#1a1a1a" textLength="31.9" lengthAdjust="spacingAndGlyphs">Pulse 1</text>
<rect x="344.45" y="715.55" width="5.3" height="5.3" fill="#3352a8" stroke="#000" stroke-width="1.0"/>
<text x="353.25" y="722.95" font-size="10.8" text-anchor="start" fill="#1a1a1a" textLength="31.9" lengthAdjust="spacingAndGlyphs">Pulse 2</text>
<path d="M347.10 726.60L350.75 730.40L347.10 734.20L343.45 730.40Z" fill="#a03c82" stroke="#000" stroke-width="1.0"/>
<text x="353.25" y="735.10" font-size="10.8" text-anchor="start" fill="#1a1a1a" textLength="31.9" lengthAdjust="spacingAndGlyphs">Pulse 3</text>
<path d="M347.10 739.30L350.40 744.80L343.80 744.80Z" fill="#55300f" stroke="#000" stroke-width="0.95" stroke-linejoin="round"/>
<text x="353.25" y="747.25" font-size="10.8" text-anchor="start" fill="#1a1a1a" textLength="31.9" lengthAdjust="spacingAndGlyphs">Pulse 4</text>
</svg>
</body></html>
